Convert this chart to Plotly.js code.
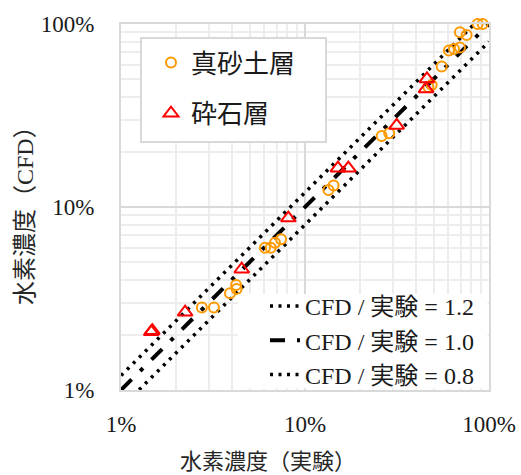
<!DOCTYPE html>
<html>
<head>
<meta charset="utf-8">
<script src="https://cdn.plot.ly/plotly-3.0.1.min.js"></script>
<style>html,body{margin:0;padding:0;background:#fff}</style>
</head>
<body>
<div id="chart" style="width:521px;height:475px"></div>
<script>
// 真砂土層 (decomposed granite layer): experiment vs CFD, %
const sandExp = [2.75, 3.20, 3.91, 4.22, 4.25, 6.06, 6.51, 6.87, 7.41, 13.4, 14.3, 26.1, 28.7, 46.8, 48.8, 55.3, 60.6, 64.5, 69.5, 69.5, 75.6, 86.8, 92.4];
const sandCfd = [2.82, 2.82, 3.38, 3.75, 3.56, 5.99, 5.99, 6.38, 6.66, 12.4, 13.1, 24.4, 25.3, 45.3, 46.4, 58.5, 71.6, 73.0, 74.4, 90.1, 87.1, 100, 100];
// 砕石層 (crushed stone layer)
const gravelExp = [1.46, 1.48, 2.23, 4.53, 8.12, 15.1, 17.2, 31.5, 45.5, 46.0];
const gravelCfd = [2.08, 2.11, 2.66, 4.57, 8.70, 16.3, 16.3, 27.9, 44.2, 50.1];
// reference ratio lines CFD / 実験
const ratios = [1.2, 1.0, 0.8];
const ratioNames = ['CFD / 実験 = 1.2', 'CFD / 実験 = 1.0', 'CFD / 実験 = 0.8'];
const lineRange = [1, 100];

const serif = 'Liberation Serif, Times New Roman, Noto Sans CJK JP, serif';
const dashes = ['3px,5.5px', '15px,12px,4px,12px', '3px,5.5px'];
const widths = [3.5, 4, 3.5];

// pixel -> paper helpers (plot area 121..489 x 24..390)
const px = v => (v - 121) / 368;
const py = v => (390 - v) / 366;

const traces = [];
ratios.forEach((r, i) => {
  traces.push({
    x: lineRange, y: lineRange.map(v => v * r),
    mode: 'lines', name: ratioNames[i], legend: 'legend2',
    line: {color: '#000', width: widths[i], dash: dashes[i]},
    hoverinfo: 'skip'
  });
});
traces.push({
  x: sandExp, y: sandCfd, mode: 'markers', name: '真砂土層', legendgroup: 'a',
  cliponaxis: false,
  marker: {symbol: 'circle-open', size: 10, color: '#FF9900', line: {width: 2, color: '#FF9900'}}
});
traces.push({
  x: gravelExp, y: gravelCfd, mode: 'markers', name: '砕石層', legendgroup: 'b',
  cliponaxis: false,
  marker: {symbol: 'triangle-up-open', size: 13, color: '#FF0000', line: {width: 2, color: '#FF0000'}}
});

const axisCommon = {
  type: 'log', range: [0, 2], tickmode: 'linear', tick0: 0, dtick: 1,
  ticksuffix: '%', exponentformat: 'none',
  showgrid: true, gridcolor: '#d9d9d9', gridwidth: 2,
  minor: {dtick: 'D1', showgrid: true, gridcolor: '#ededed', gridwidth: 2, ticks: ''},
  showline: true, linecolor: '#d9d9d9', linewidth: 2, mirror: true,
  zeroline: false, ticks: '',
  tickfont: {family: serif, size: 23, color: '#1a1a1a'}
};

const layout = {
  width: 521, height: 475,
  margin: {l: 121, r: 32, t: 24, b: 85},
  paper_bgcolor: '#fff', plot_bgcolor: '#fff',
  xaxis: Object.assign({}, axisCommon, {ticklabelstandoff: 12}),
  yaxis: Object.assign({}, axisCommon, {ticklabelstandoff: 20}),
  shapes: [
    {type: 'rect', xref: 'paper', yref: 'paper', layer: 'above',
     x0: px(141), x1: px(326), y0: py(142), y1: py(38),
     fillcolor: '#fff', line: {color: '#d9d9d9', width: 2}},
    {type: 'rect', xref: 'paper', yref: 'paper', layer: 'above',
     x0: px(238), x1: px(487.5), y0: py(388.5), y1: py(294),
     fillcolor: '#fff', line: {width: 0}}
  ],
  annotations: [
    {text: '水素濃度（実験）', xref: 'paper', yref: 'paper',
     x: px(268), y: py(461), xanchor: 'center', yanchor: 'middle',
     showarrow: false, font: {family: serif, size: 22, color: '#262626'}},
    {text: '水素濃度（CFD）', xref: 'paper', yref: 'paper', textangle: -90,
     x: px(25), y: py(210), xanchor: 'center', yanchor: 'middle',
     showarrow: false, font: {family: serif, size: 24, color: '#262626'}}
  ],
  showlegend: true,
  legend: {
    x: px(151), y: py(39), xanchor: 'left', yanchor: 'top',
    bgcolor: 'rgba(0,0,0,0)', borderwidth: 0,
    font: {family: serif, size: 26, color: '#1a1a1a'},
    tracegroupgap: 14, traceorder: 'grouped'
  },
  legend2: {
    x: px(479), y: py(397), xanchor: 'right', yanchor: 'bottom',
    bgcolor: 'rgba(0,0,0,0)', borderwidth: 0,
    font: {family: serif, size: 24, color: '#1a1a1a'},
    tracegroupgap: 0, traceorder: 'normal'
  }
};

Plotly.newPlot('chart', traces, layout, {displayModeBar: false, staticPlot: true});
</script>
</body>
</html>
